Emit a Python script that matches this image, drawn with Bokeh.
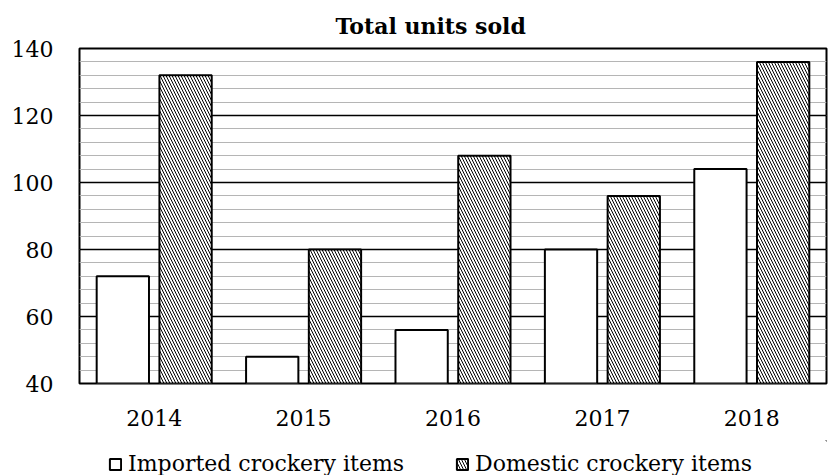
from bokeh.plotting import figure
from bokeh.models import (FactorRange, Range1d, SingleIntervalTicker, Legend, LegendItem,
                          ColumnDataSource)
from bokeh.layouts import column
from bokeh.transform import dodge
from bokeh.embed import file_html
from bokeh.resources import INLINE

years = ["2014", "2015", "2016", "2017", "2018"]
imported = [72, 48, 56, 80, 104]
domestic = [132, 80, 108, 96, 136]
series_names = ["Imported crockery items", "Domestic crockery items"]
title_text = "Total units sold"

FONT = "DejaVu Serif"

src = ColumnDataSource(dict(year=years, imported=imported, domestic=domestic))

p1 = figure(width=828, height=440, x_range=FactorRange(*years), y_range=Range1d(40, 140),
            output_backend="svg", toolbar_location=None,
            min_border_left=79, min_border_right=2, min_border_top=48, min_border_bottom=57)

p1.title.text = title_text
p1.title.text_font = FONT
p1.title.text_font_size = "22px"
p1.title.text_font_style = "bold"
p1.title.text_color = "black"
p1.title.align = "left"
p1.title.offset = 256
p1.title.standoff = 19

imp_style = dict(fill_color="white", line_color="black", line_width=2)
dom_style = dict(fill_color="white", line_color="black", line_width=2,
                 hatch_pattern="\\", hatch_color="black", hatch_scale=6, hatch_weight=1)

p1.vbar(x=dodge("year", -0.21, range=p1.x_range), top="imported", width=0.35, bottom=0,
        source=src, **imp_style)
p1.vbar(x=dodge("year", 0.21, range=p1.x_range), top="domestic", width=0.35, bottom=0,
        source=src, **dom_style)

p1.outline_line_color = "black"
p1.outline_line_width = 2
p1.background_fill_color = "white"

p1.xgrid.grid_line_color = None
p1.yaxis.ticker = SingleIntervalTicker(interval=20, num_minor_ticks=5)
p1.ygrid.grid_line_color = "black"
p1.ygrid.grid_line_width = 1.5
p1.ygrid.minor_grid_line_color = "#b5b5b5"
p1.ygrid.minor_grid_line_width = 1
p1.ygrid.level = "image"

for ax in (p1.xaxis[0], p1.yaxis[0]):
    ax.axis_line_color = None
    ax.major_tick_line_color = None
    ax.minor_tick_line_color = None
    ax.major_tick_in = 0
    ax.major_tick_out = 0
    ax.minor_tick_in = 0
    ax.minor_tick_out = 0
    ax.major_label_text_font = FONT
    ax.major_label_text_font_size = "22px"
    ax.major_label_text_color = "black"
p1.yaxis.major_label_standoff = 26
p1.xaxis.major_label_standoff = 26
p1.x_range.range_padding = 0
p1.x_range.group_padding = 0

# legend strip (proxy renderers lie outside the visible range)
p2 = figure(width=828, height=35, x_range=Range1d(0, 1), y_range=Range1d(0, 1),
            output_backend="svg", toolbar_location=None,
            x_axis_location=None, y_axis_location=None,
            min_border_left=0, min_border_right=0, min_border_top=0, min_border_bottom=0)
p2.outline_line_color = None
p2.grid.visible = False
l1 = p2.vbar(x=[5], top=[5], bottom=[4], width=0.35, **imp_style)
l2 = p2.vbar(x=[5], top=[5], bottom=[4], width=0.35, **dom_style)

legend = Legend(items=[LegendItem(label=series_names[0], renderers=[l1]),
                       LegendItem(label=series_names[1], renderers=[l2])],
                orientation="horizontal", location=(29, -1))
legend.label_text_font = FONT
legend.label_text_font_size = "22px"
legend.label_text_color = "black"
legend.glyph_width = 14
legend.glyph_height = 14
legend.label_standoff = 6
legend.spacing = 51
legend.padding = 0
legend.margin = 0
legend.border_line_color = None
legend.background_fill_alpha = 0
p2.add_layout(legend, "center")

p = column(p1, p2, spacing=0)
open("out.html", "w").write(file_html(p, INLINE))
